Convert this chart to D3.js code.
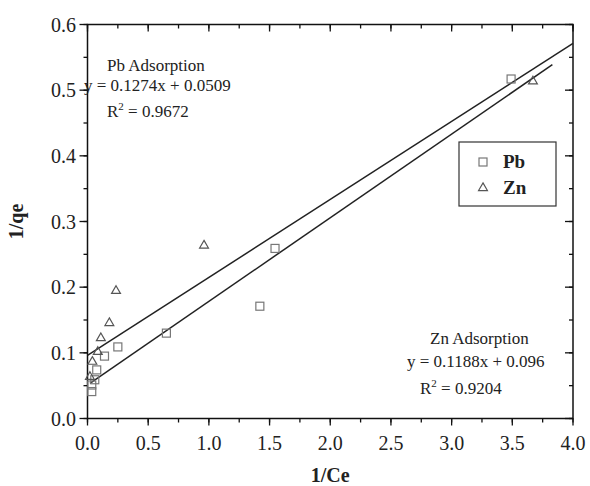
<!DOCTYPE html>
<html>
<head>
<meta charset="utf-8">
<script src="https://cdn.jsdelivr.net/npm/d3@7"></script>
<style>
  body { margin: 0; background: #fff; }
  svg { display: block; font-family: "Liberation Serif", "Times New Roman", serif; }
</style>
</head>
<body>
<div id="chart"></div>
<script>
// Pb (squares) - 1/Ce vs 1/qe
var pb_x = [3.49, 1.545, 1.42, 0.65, 0.25, 0.14, 0.076, 0.06, 0.035, 0.035];
var pb_y = [0.517, 0.259, 0.171, 0.130, 0.109, 0.095, 0.074, 0.059, 0.051, 0.041];

// Zn (triangles)
var zn_x = [3.67, 0.96, 0.235, 0.18, 0.11, 0.085, 0.04, 0.02];
var zn_y = [0.515, 0.265, 0.196, 0.147, 0.124, 0.103, 0.088, 0.065];

// linear fits: [slope, intercept, x from, x to]
var pb_fit = [0.1274, 0.0509, 0.02, 3.83];
var zn_fit = [0.1188, 0.096, 0.0, 4.0];

var x_ticks = [0, 0.5, 1.0, 1.5, 2.0, 2.5, 3.0, 3.5, 4.0];
var x_minor = d3.range(0, 4.01, 0.25);
var y_ticks = [0, 0.1, 0.2, 0.3, 0.4, 0.5, 0.6];
var y_minor = d3.range(0, 0.601, 0.05);

var pb_text = ["Pb Adsorption", "y = 0.1274x + 0.0509", "0.9672"];
var zn_text = ["Zn Adsorption", "y = 0.1188x + 0.096", "0.9204"];
var legend_names = ["Pb", "Zn"];

var width = 590, height = 486;
var plot_l = 87.5, plot_r = 573, plot_t = 24.5, plot_b = 418.5;

var svg = d3.select("#chart").append("svg")
    .attr("width", width)
    .attr("height", height);

var x = d3.scaleLinear().domain([0, 4]).range([plot_l, plot_r]);
var y = d3.scaleLinear().domain([0, 0.6]).range([plot_b, plot_t]);

/*
 * draws tick marks on one side of the frame
 * dir: +1 / -1 along the perpendicular direction
 */
function drawTicks(values, isX, pos, dir, len) {
    svg.append("g").selectAll("line")
        .data(values)
        .enter().append("line")
        .attr("x1", function(d) { return isX ? x(d) : pos; })
        .attr("x2", function(d) { return isX ? x(d) : pos + dir * len; })
        .attr("y1", function(d) { return isX ? pos : y(d); })
        .attr("y2", function(d) { return isX ? pos + dir * len : y(d); })
        .style("stroke", "#111")
        .style("stroke-width", 1.3);
}

// frame
svg.append("rect")
    .attr("x", plot_l)
    .attr("y", plot_t)
    .attr("width", plot_r - plot_l)
    .attr("height", plot_b - plot_t)
    .attr("fill", "none")
    .style("stroke", "#111")
    .style("stroke-width", 1.5);

// bottom + left ticks point outward, top + right inward
drawTicks(x_minor, true, plot_b, 1, 4);
drawTicks(x_ticks, true, plot_b, 1, 7);
drawTicks(x_minor, true, plot_t, 1, 4);
drawTicks(x_ticks, true, plot_t, 1, 7);
drawTicks(y_minor, false, plot_l, -1, 4);
drawTicks(y_ticks, false, plot_l, -1, 8);
drawTicks(y_minor, false, plot_r, -1, 4);
drawTicks(y_ticks, false, plot_r, -1, 8);

// tick labels
svg.append("g").selectAll("text")
    .data(x_ticks)
    .enter().append("text")
    .attr("x", function(d) { return x(d); })
    .attr("y", 450)
    .attr("text-anchor", "middle")
    .attr("font-size", 20)
    .attr("fill", "#222")
    .text(function(d) { return d.toFixed(1); });

svg.append("g").selectAll("text")
    .data(y_ticks)
    .enter().append("text")
    .attr("x", 76)
    .attr("y", function(d) { return y(d) + 7; })
    .attr("text-anchor", "end")
    .attr("font-size", 20)
    .attr("fill", "#222")
    .text(function(d) { return d.toFixed(1); });

// axis titles
svg.append("text")
    .attr("x", x(2))
    .attr("y", 482)
    .attr("text-anchor", "middle")
    .attr("font-size", 20)
    .attr("font-weight", "bold")
    .attr("fill", "#222")
    .text("1/Ce");

svg.append("text")
    .attr("transform", "translate(23," + y(0.3) + ") rotate(-90)")
    .attr("text-anchor", "middle")
    .attr("font-size", 20)
    .attr("font-weight", "bold")
    .attr("fill", "#222")
    .text("1/qe");

// fit lines
[pb_fit, zn_fit].forEach(function(f) {
    svg.append("line")
        .attr("x1", x(f[2]))
        .attr("y1", y(f[0] * f[2] + f[1]))
        .attr("x2", x(f[3]))
        .attr("y2", y(f[0] * f[3] + f[1]))
        .style("stroke", "#222")
        .style("stroke-width", 1.5);
});

var sq = 8;
var triangle = d3.symbol().type(d3.symbolTriangle).size(34);

// Pb squares
svg.append("g").selectAll("rect")
    .data(pb_x)
    .enter().append("rect")
    .attr("x", function(d) { return x(d) - sq / 2; })
    .attr("y", function(d, i) { return y(pb_y[i]) - sq / 2; })
    .attr("width", sq)
    .attr("height", sq)
    .attr("fill", "none")
    .style("stroke", "#777")
    .style("stroke-width", 1.2);

// Zn triangles
svg.append("g").selectAll("path")
    .data(zn_x)
    .enter().append("path")
    .attr("d", triangle)
    .attr("transform", function(d, i) { return "translate(" + x(d) + "," + (y(zn_y[i]) + 1) + ")"; })
    .attr("fill", "none")
    .style("stroke", "#555")
    .style("stroke-width", 1.2);

/*
 * writes one equation block (title, equation, R^2 line)
 */
function renderEquation(lines, xs, ys) {
    var g = svg.append("g")
        .attr("font-size", 17)
        .attr("fill", "#222");
    g.append("text").attr("x", xs[0]).attr("y", ys[0]).text(lines[0]);
    g.append("text").attr("x", xs[1]).attr("y", ys[1]).text(lines[1]);
    var r = g.append("text").attr("x", xs[2]).attr("y", ys[2]);
    r.append("tspan").text("R");
    r.append("tspan").attr("dy", -7).attr("font-size", 11).text("2");
    r.append("tspan").attr("dy", 7).text(" = " + lines[2]);
}

renderEquation(pb_text, [107, 84, 107], [71, 91, 117]);
renderEquation(zn_text, [430, 407, 420], [344, 367, 394]);

// legend
var lg = svg.append("g");
lg.append("rect")
    .attr("x", 459)
    .attr("y", 142)
    .attr("width", 97)
    .attr("height", 64)
    .attr("fill", "none")
    .style("stroke", "#333")
    .style("stroke-width", 1.2);

lg.append("rect")
    .attr("x", 483 - sq / 2)
    .attr("y", 162 - sq / 2)
    .attr("width", sq)
    .attr("height", sq)
    .attr("fill", "none")
    .style("stroke", "#777")
    .style("stroke-width", 1.2);

lg.append("path")
    .attr("d", triangle)
    .attr("transform", "translate(483,188)")
    .attr("fill", "none")
    .style("stroke", "#555")
    .style("stroke-width", 1.2);

lg.selectAll("text")
    .data(legend_names)
    .enter().append("text")
    .attr("x", 503)
    .attr("y", function(d, i) { return 168 + i * 26; })
    .attr("font-size", 19)
    .attr("font-weight", "bold")
    .attr("fill", "#222")
    .text(function(d) { return d; });
</script>
</body>
</html>
